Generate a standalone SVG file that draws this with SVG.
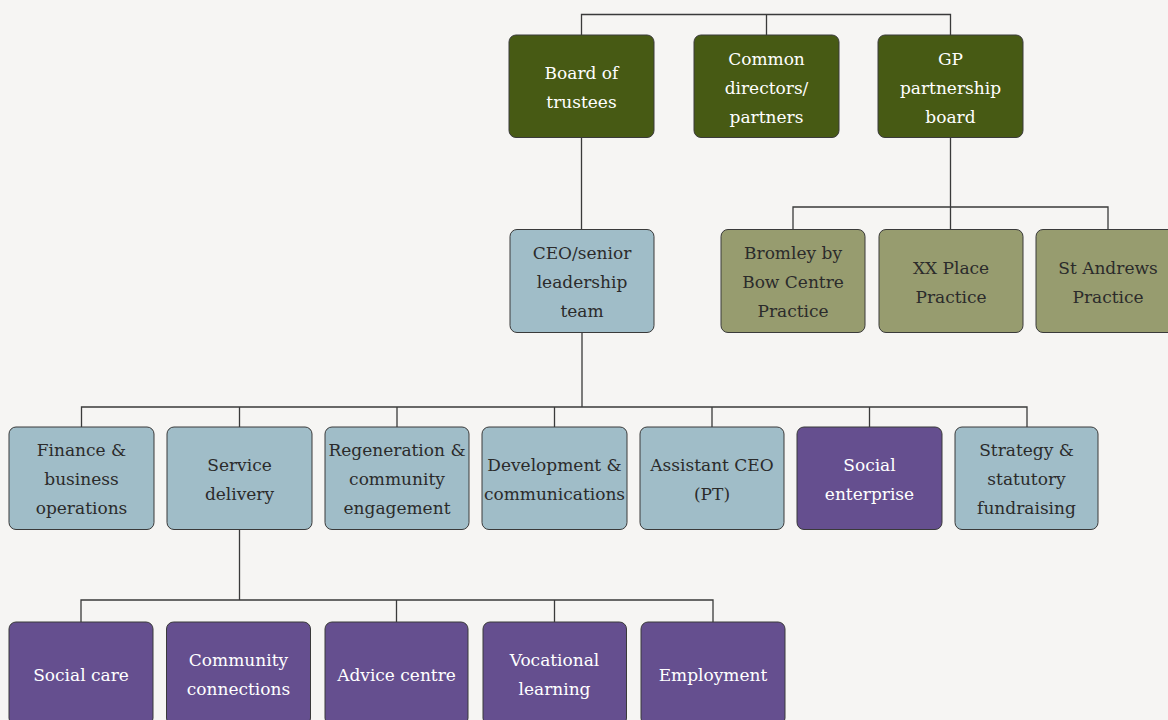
<svg xmlns="http://www.w3.org/2000/svg" width="1168" height="720" viewBox="0 0 1168 720">
  <style>
    .box { stroke: #3a3a3a; stroke-width: 1; }
    .board { fill: #475a14; }
    .practice { fill: #979c6f; }
    .dept { fill: #a0bdc8; }
    .unit { fill: #654f8f; }
    text { font-family: "DejaVu Serif", "Noto Serif", serif; font-size: 17px; text-anchor: middle; }
    .light { fill: #ffffff; }
    .dark { fill: #2b2b2b; }
    .conn { fill: none; stroke: #3a3a3a; stroke-width: 1.3; }
  </style>
  <rect width="1168" height="720" fill="#f6f5f3"/>

  <g id="connectors">
    <!-- governance bus -->
    <path class="conn" d="M581.5 35 V14.5 H950.5 V35 M766.5 14.5 V35"/>
    <!-- board to CEO -->
    <path class="conn" d="M581.5 137.5 V229.5"/>
    <!-- GP board to practices -->
    <path class="conn" d="M950.5 137.5 V207 M793 229.5 V207 H1108 V229.5 M950.5 207 V229.5"/>
    <!-- CEO to departments -->
    <path class="conn" d="M582 332.5 V407 M81.5 427 V407 H1027 V427 M239.5 407 V427 M397 407 V427 M554.5 407 V427 M712 407 V427 M869.5 407 V427"/>
    <!-- service delivery to units -->
    <path class="conn" d="M239.5 529.5 V600 M81 622 V600 H713 V622 M396.5 600 V622 M554.5 600 V622"/>
  </g>

  <g id="board-of-trustees">
    <rect class="box board" x="509" y="35" width="145" height="102.5" rx="7"/>
    <text class="light" x="581.5" y="79">Board of</text>
    <text class="light" x="581.5" y="108">trustees</text>
  </g>
  <g id="common-directors">
    <rect class="box board" x="694" y="35" width="145" height="102.5" rx="7"/>
    <text class="light" x="766.5" y="65">Common</text>
    <text class="light" x="766.5" y="94">directors/</text>
    <text class="light" x="766.5" y="123">partners</text>
  </g>
  <g id="gp-partnership-board">
    <rect class="box board" x="878" y="35" width="145" height="102.5" rx="7"/>
    <text class="light" x="950.5" y="65">GP</text>
    <text class="light" x="950.5" y="94">partnership</text>
    <text class="light" x="950.5" y="123">board</text>
  </g>

  <g id="ceo">
    <rect class="box dept" x="510" y="229.5" width="144" height="103" rx="7"/>
    <text class="dark" x="582" y="259">CEO/senior</text>
    <text class="dark" x="582" y="288">leadership</text>
    <text class="dark" x="582" y="317">team</text>
  </g>

  <g id="bromley-by-bow">
    <rect class="box practice" x="721" y="229.5" width="144" height="103" rx="7"/>
    <text class="dark" x="793" y="259">Bromley by</text>
    <text class="dark" x="793" y="288">Bow Centre</text>
    <text class="dark" x="793" y="317">Practice</text>
  </g>
  <g id="xx-place">
    <rect class="box practice" x="879" y="229.5" width="144" height="103" rx="7"/>
    <text class="dark" x="951" y="274">XX Place</text>
    <text class="dark" x="951" y="303">Practice</text>
  </g>
  <g id="st-andrews">
    <rect class="box practice" x="1036" y="229.5" width="144" height="103" rx="7"/>
    <text class="dark" x="1108" y="274">St Andrews</text>
    <text class="dark" x="1108" y="303">Practice</text>
  </g>

  <g id="finance">
    <rect class="box dept" x="9" y="427" width="145" height="102.5" rx="7"/>
    <text class="dark" x="81.5" y="456">Finance &amp;</text>
    <text class="dark" x="81.5" y="485">business</text>
    <text class="dark" x="81.5" y="514">operations</text>
  </g>
  <g id="service-delivery">
    <rect class="box dept" x="167" y="427" width="145" height="102.5" rx="7"/>
    <text class="dark" x="239.5" y="471">Service</text>
    <text class="dark" x="239.5" y="500">delivery</text>
  </g>
  <g id="regeneration">
    <rect class="box dept" x="325" y="427" width="144" height="102.5" rx="7"/>
    <text class="dark" x="397" y="456">Regeneration &amp;</text>
    <text class="dark" x="397" y="485">community</text>
    <text class="dark" x="397" y="514">engagement</text>
  </g>
  <g id="development">
    <rect class="box dept" x="482" y="427" width="145" height="102.5" rx="7"/>
    <text class="dark" x="554.5" y="471">Development &amp;</text>
    <text class="dark" x="554.5" y="500">communications</text>
  </g>
  <g id="assistant-ceo">
    <rect class="box dept" x="640" y="427" width="144" height="102.5" rx="7"/>
    <text class="dark" x="712" y="471">Assistant CEO</text>
    <text class="dark" x="712" y="500">(PT)</text>
  </g>
  <g id="social-enterprise">
    <rect class="box unit" x="797" y="427" width="145" height="102.5" rx="7"/>
    <text class="light" x="869.5" y="471">Social</text>
    <text class="light" x="869.5" y="500">enterprise</text>
  </g>
  <g id="strategy">
    <rect class="box dept" x="955" y="427" width="143" height="102.5" rx="7"/>
    <text class="dark" x="1026.5" y="456">Strategy &amp;</text>
    <text class="dark" x="1026.5" y="485">statutory</text>
    <text class="dark" x="1026.5" y="514">fundraising</text>
  </g>

  <g id="social-care">
    <rect class="box unit" x="9" y="622" width="144" height="103" rx="7"/>
    <text class="light" x="81" y="681">Social care</text>
  </g>
  <g id="community-connections">
    <rect class="box unit" x="166.5" y="622" width="144" height="103" rx="7"/>
    <text class="light" x="238.5" y="666">Community</text>
    <text class="light" x="238.5" y="695">connections</text>
  </g>
  <g id="advice-centre">
    <rect class="box unit" x="325" y="622" width="143" height="103" rx="7"/>
    <text class="light" x="396.5" y="681">Advice centre</text>
  </g>
  <g id="vocational-learning">
    <rect class="box unit" x="483" y="622" width="143.5" height="103" rx="7"/>
    <text class="light" x="554.5" y="666">Vocational</text>
    <text class="light" x="554.5" y="695">learning</text>
  </g>
  <g id="employment">
    <rect class="box unit" x="641" y="622" width="144" height="103" rx="7"/>
    <text class="light" x="713" y="681">Employment</text>
  </g>
</svg>
